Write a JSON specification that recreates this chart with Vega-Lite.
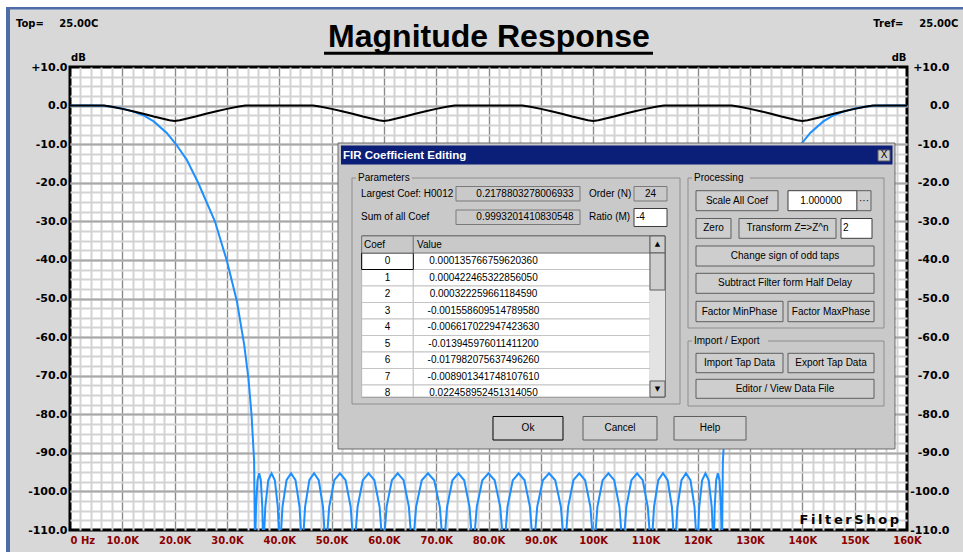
{
"$schema": "https://vega.github.io/schema/vega-lite/v6.json",
"width": 837, "height": 463,
"autosize": {"type": "none"},
"padding": {"left": 70, "top": 67, "right": 56, "bottom": 22},
"background": "#d8d8d8",
"config": {"view": {"fill": "#ffffff", "stroke": "#000000", "strokeWidth": 3}},
"datasets": {
"blue": [
{"f":0,"db":0},{"f":4000,"db":0},{"f":6500,"db":-0.05},{"f":8000,"db":-0.3},{"f":10000,"db":-0.75},{"f":12000,"db":-1.5},{"f":14000,"db":-2.5},{"f":16000,"db":-4.1},{"f":18500,"db":-7.1},{"f":20300,"db":-10.1},{"f":22300,"db":-14},{"f":24500,"db":-20},{"f":27700,"db":-30},{"f":30000,"db":-40.3},{"f":31900,"db":-50.7},{"f":33300,"db":-62},{"f":34100,"db":-70.6},{"f":34700,"db":-80.1},{"f":35200,"db":-92.2},{"f":35370,"db":-116},
{"f":35560,"db":-104},{"f":35840,"db":-97.1},{"f":36160,"db":-95.3},{"f":36480,"db":-97.1},{"f":36760,"db":-104},{"f":36950,"db":-116},
{"f":37330,"db":-104},{"f":37900,"db":-97.1},{"f":38530,"db":-95.3},{"f":39160,"db":-97.1},{"f":39720,"db":-104},{"f":40100,"db":-116},
{"f":40620,"db":-104},{"f":41390,"db":-97.1},{"f":42250,"db":-95.3},{"f":43110,"db":-97.1},{"f":43880,"db":-104},{"f":44400,"db":-116},
{"f":44940,"db":-104},{"f":45750,"db":-97.1},{"f":46650,"db":-95.3},{"f":47550,"db":-97.1},{"f":48360,"db":-104},{"f":48900,"db":-116},
{"f":49550,"db":-104},{"f":50520,"db":-97.1},{"f":51600,"db":-95.3},{"f":52680,"db":-97.1},{"f":53650,"db":-104},{"f":54300,"db":-116},
{"f":54970,"db":-104},{"f":55970,"db":-97.1},{"f":57080,"db":-95.3},{"f":58190,"db":-97.1},{"f":59180,"db":-104},{"f":59850,"db":-116},
{"f":60520,"db":-104},{"f":61530,"db":-97.1},{"f":62650,"db":-95.3},{"f":63770,"db":-97.1},{"f":64780,"db":-104},{"f":65450,"db":-116},
{"f":66160,"db":-104},{"f":67240,"db":-97.1},{"f":68430,"db":-95.3},{"f":69620,"db":-97.1},{"f":70690,"db":-104},{"f":71400,"db":-116},
{"f":72080,"db":-104},{"f":73100,"db":-97.1},{"f":74230,"db":-95.3},{"f":75360,"db":-97.1},{"f":76370,"db":-104},{"f":77050,"db":-116},
{"f":77760,"db":-104},{"f":78820,"db":-97.1},{"f":80000,"db":-95.3},{"f":81180,"db":-97.1},{"f":82240,"db":-104},{"f":82950,"db":-116},
{"f":83630,"db":-104},{"f":84640,"db":-97.1},{"f":85770,"db":-95.3},{"f":86900,"db":-97.1},{"f":87920,"db":-104},{"f":88600,"db":-116},
{"f":89310,"db":-104},{"f":90380,"db":-97.1},{"f":91570,"db":-95.3},{"f":92760,"db":-97.1},{"f":93840,"db":-104},{"f":94550,"db":-116},
{"f":95220,"db":-104},{"f":96230,"db":-97.1},{"f":97350,"db":-95.3},{"f":98470,"db":-97.1},{"f":99480,"db":-104},{"f":100150,"db":-116},
{"f":100820,"db":-104},{"f":101810,"db":-97.1},{"f":102920,"db":-95.3},{"f":104030,"db":-97.1},{"f":105030,"db":-104},{"f":105700,"db":-116},
{"f":106350,"db":-104},{"f":107320,"db":-97.1},{"f":108400,"db":-95.3},{"f":109480,"db":-97.1},{"f":110450,"db":-104},{"f":111100,"db":-116},
{"f":111640,"db":-104},{"f":112450,"db":-97.1},{"f":113350,"db":-95.3},{"f":114250,"db":-97.1},{"f":115060,"db":-104},{"f":115600,"db":-116},
{"f":116120,"db":-104},{"f":116890,"db":-97.1},{"f":117750,"db":-95.3},{"f":118610,"db":-97.1},{"f":119380,"db":-104},{"f":119900,"db":-116},
{"f":120280,"db":-104},{"f":120840,"db":-97.1},{"f":121470,"db":-95.3},{"f":122100,"db":-97.1},{"f":122670,"db":-104},{"f":123050,"db":-116},
{"f":123240,"db":-104},{"f":123520,"db":-97.1},{"f":123840,"db":-95.3},{"f":124160,"db":-97.1},{"f":124440,"db":-104},{"f":124630,"db":-116},
{"f":124800,"db":-92.2},{"f":125300,"db":-80.1},{"f":125900,"db":-70.6},{"f":126700,"db":-62},{"f":128100,"db":-50.7},{"f":130000,"db":-40.3},{"f":132300,"db":-30},{"f":135500,"db":-20},{"f":137700,"db":-14},{"f":139700,"db":-10.1},{"f":141500,"db":-7.1},{"f":144000,"db":-4.1},{"f":146000,"db":-2.5},{"f":148000,"db":-1.5},{"f":150000,"db":-0.75},{"f":152000,"db":-0.3},{"f":153500,"db":-0.05},{"f":156000,"db":0},{"f":160000,"db":0}
],
"black": [
{"f":0,"db":0},{"f":6500,"db":0},{"f":8000,"db":-0.3},{"f":10000,"db":-0.85},{"f":12000,"db":-1.45},{"f":14000,"db":-2.1},{"f":16000,"db":-2.85},{"f":18000,"db":-3.5},{"f":19000,"db":-3.8},{"f":20000,"db":-4.0},{"f":21000,"db":-3.8},{"f":22000,"db":-3.5},{"f":24000,"db":-2.85},{"f":26000,"db":-2.1},{"f":28000,"db":-1.45},{"f":30000,"db":-0.85},{"f":32000,"db":-0.3},{"f":33500,"db":0},
{"f":46500,"db":0},{"f":48000,"db":-0.3},{"f":50000,"db":-0.85},{"f":52000,"db":-1.45},{"f":54000,"db":-2.1},{"f":56000,"db":-2.85},{"f":58000,"db":-3.5},{"f":59000,"db":-3.8},{"f":60000,"db":-4.0},{"f":61000,"db":-3.8},{"f":62000,"db":-3.5},{"f":64000,"db":-2.85},{"f":66000,"db":-2.1},{"f":68000,"db":-1.45},{"f":70000,"db":-0.85},{"f":72000,"db":-0.3},{"f":73500,"db":0},
{"f":86500,"db":0},{"f":88000,"db":-0.3},{"f":90000,"db":-0.85},{"f":92000,"db":-1.45},{"f":94000,"db":-2.1},{"f":96000,"db":-2.85},{"f":98000,"db":-3.5},{"f":99000,"db":-3.8},{"f":100000,"db":-4.0},{"f":101000,"db":-3.8},{"f":102000,"db":-3.5},{"f":104000,"db":-2.85},{"f":106000,"db":-2.1},{"f":108000,"db":-1.45},{"f":110000,"db":-0.85},{"f":112000,"db":-0.3},{"f":113500,"db":0},
{"f":126500,"db":0},{"f":128000,"db":-0.3},{"f":130000,"db":-0.85},{"f":132000,"db":-1.45},{"f":134000,"db":-2.1},{"f":136000,"db":-2.85},{"f":138000,"db":-3.5},{"f":139000,"db":-3.8},{"f":140000,"db":-4.0},{"f":141000,"db":-3.8},{"f":142000,"db":-3.5},{"f":144000,"db":-2.85},{"f":146000,"db":-2.1},{"f":148000,"db":-1.45},{"f":150000,"db":-0.85},{"f":152000,"db":-0.3},{"f":153500,"db":0},{"f":160000,"db":0}
],
"ann": [
{"t":"Top=","x":-10323,"y":21.145},{"t":"25.00C","x":-2045,"y":21.145},{"t":"Tref=","x":153558,"y":21.145},{"t":"25.00C","x":162351,"y":21.145},{"t":"dB","x":191,"y":12.255},{"t":"dB","x":157075,"y":12.255}
],
"ttl": [{"t":"Magnitude Response","x":80096,"y":15.184}],
"logo": [{"t":"F\u2009i\u2009l\u2009t\u2009e\u2009r\u2009S\u2009h\u2009o\u2009p","x":158471,"y":-107.3}],
"rects": [
{"k":"white","x1":-13381,"x2":-12234,"y1":-115.7,"y2":27.37},
{"k":"white","x1":-13381,"x2":170705,"y1":25.55,"y2":27.37},
{"k":"winblue","x1":-12234,"x2":-11470,"y1":-115.7,"y2":25.55},
{"k":"winblue","x1":-12234,"x2":170705,"y1":24.9,"y2":25.55},
{"k":"ink","x1":48554,"x2":111446,"y1":13.16,"y2":13.94},
{"k":"dlg","x1":51231,"x2":157706,"y1":-89.006,"y2":-9.698},
{"k":"title","x1":51804,"x2":157228,"y1":-15.27,"y2":-10.346},
{"k":"btn","x1":154456,"x2":156750,"y1":-14.363,"y2":-11.512},
{"k":"group","x1":53907,"x2":116607,"y1":-77.343,"y2":-18.769},
{"k":"lblbg","x1":54671,"x2":65376,"y1":-20.324,"y2":-17.214},
{"k":"ro","x1":73787,"x2":97491,"y1":-24.73,"y2":-20.972},
{"k":"ro","x1":107814,"x2":114122,"y1":-24.73,"y2":-20.972},
{"k":"ro","x1":73787,"x2":97491,"y1":-30.821,"y2":-27.063},
{"k":"field","x1":107814,"x2":114122,"y1":-31.339,"y2":-26.674},
{"k":"tablebox","x1":55761,"x2":113740,"y1":-75.529,"y2":-33.801},
{"k":"cell","x1":65625,"x2":110872,"y1":-42.484,"y2":-38.207},
{"k":"cell","x1":55761,"x2":65625,"y1":-46.76,"y2":-42.484},
{"k":"cell","x1":65625,"x2":110872,"y1":-46.76,"y2":-42.484},
{"k":"cell","x1":55761,"x2":65625,"y1":-51.037,"y2":-46.76},
{"k":"cell","x1":65625,"x2":110872,"y1":-51.037,"y2":-46.76},
{"k":"cell","x1":55761,"x2":65625,"y1":-55.313,"y2":-51.037},
{"k":"cell","x1":65625,"x2":110872,"y1":-55.313,"y2":-51.037},
{"k":"cell","x1":55761,"x2":65625,"y1":-59.59,"y2":-55.313},
{"k":"cell","x1":65625,"x2":110872,"y1":-59.59,"y2":-55.313},
{"k":"cell","x1":55761,"x2":65625,"y1":-63.866,"y2":-59.59},
{"k":"cell","x1":65625,"x2":110872,"y1":-63.866,"y2":-59.59},
{"k":"cell","x1":55761,"x2":65625,"y1":-68.143,"y2":-63.866},
{"k":"cell","x1":65625,"x2":110872,"y1":-68.143,"y2":-63.866},
{"k":"cell","x1":55761,"x2":65625,"y1":-72.419,"y2":-68.143},
{"k":"cell","x1":65625,"x2":110872,"y1":-72.419,"y2":-68.143},
{"k":"cell","x1":55761,"x2":65625,"y1":-75.529,"y2":-72.419},
{"k":"cell","x1":65625,"x2":110872,"y1":-75.529,"y2":-72.419},
{"k":"focus","x1":55761,"x2":65625,"y1":-42.484,"y2":-38.207},
{"k":"hdr","x1":55761,"x2":65625,"y1":-38.207,"y2":-33.801},
{"k":"hdr","x1":65625,"x2":110872,"y1":-38.207,"y2":-33.801},
{"k":"track","x1":110872,"x2":113740,"y1":-71.382,"y2":-38.207},
{"k":"btn","x1":110872,"x2":113740,"y1":-38.207,"y2":-33.801},
{"k":"btn","x1":110872,"x2":113740,"y1":-47.797,"y2":-38.207},
{"k":"btn","x1":110872,"x2":113740,"y1":-75.529,"y2":-71.382},
{"k":"group","x1":118136,"x2":155603,"y1":-57.646,"y2":-18.769},
{"k":"lblbg","x1":118901,"x2":129988,"y1":-20.324,"y2":-17.214},
{"k":"btn","x1":119666,"x2":135341,"y1":-27.244,"y2":-22.06},
{"k":"field","x1":137252,"x2":150442,"y1":-27.244,"y2":-22.06},
{"k":"btn","x1":150442,"x2":153118,"y1":-27.244,"y2":-22.06},
{"k":"btn","x1":119666,"x2":126356,"y1":-34.397,"y2":-29.266},
{"k":"btn","x1":127885,"x2":146428,"y1":-34.397,"y2":-29.266},
{"k":"field","x1":147384,"x2":153310,"y1":-34.397,"y2":-29.266},
{"k":"btn","x1":119666,"x2":153692,"y1":-41.577,"y2":-36.393},
{"k":"btn","x1":119666,"x2":153692,"y1":-48.652,"y2":-43.469},
{"k":"btn","x1":119666,"x2":136296,"y1":-56.013,"y2":-50.726},
{"k":"btn","x1":137252,"x2":153692,"y1":-56.013,"y2":-50.726},
{"k":"group","x1":118136,"x2":155603,"y1":-77.862,"y2":-61.015},
{"k":"lblbg","x1":118901,"x2":133429,"y1":-62.57,"y2":-59.46},
{"k":"btn","x1":119666,"x2":136296,"y1":-69.231,"y2":-64.203},
{"k":"btn","x1":137252,"x2":153692,"y1":-69.231,"y2":-64.203},
{"k":"btn","x1":119666,"x2":153692,"y1":-75.866,"y2":-70.942},
{"k":"btnfocus","x1":80860,"x2":94241,"y1":-86.674,"y2":-80.583},
{"k":"btn","x1":98065,"x2":112210,"y1":-86.674,"y2":-80.583},
{"k":"btn","x1":115460,"x2":129224,"y1":-86.674,"y2":-80.583}
],
"tl": [
{"t":"Parameters","x":55054,"y":-18.769},
{"t":"Largest Coef: H0012","x":55627,"y":-22.838},
{"t":"Order (N)","x":99212,"y":-22.838},
{"t":"Sum of all Coef","x":55627,"y":-28.954},
{"t":"Ratio (M)","x":99212,"y":-28.954},
{"t":"-4","x":108196,"y":-28.954},
{"t":"Coef","x":56201,"y":-36.134},
{"t":"Value","x":66332,"y":-36.134},
{"t":"Processing","x":119283,"y":-18.769},
{"t":"Import / Export","x":119283,"y":-61.015},
{"t":"2","x":147766,"y":-31.832}
],
"tc": [
{"t":"0.2178803278006933","x":86977,"y":-22.838},
{"t":"24","x":110968,"y":-22.838},
{"t":"0.9993201410830548","x":86977,"y":-28.954},
{"t":"0","x":60693,"y":-40.346},{"t":"1","x":60693,"y":-44.622},{"t":"2","x":60693,"y":-48.899},{"t":"3","x":60693,"y":-53.175},{"t":"4","x":60693,"y":-57.452},{"t":"5","x":60693,"y":-61.728},{"t":"6","x":60693,"y":-66.005},{"t":"7","x":60693,"y":-70.281},{"t":"8","x":60693,"y":-74.557},
{"t":"0.000135766759620360","x":79044,"y":-40.346},
{"t":"0.000422465322856050","x":79044,"y":-44.622},
{"t":"0.000322259661184590","x":79044,"y":-48.899},
{"t":"-0.001558609514789580","x":79044,"y":-53.175},
{"t":"-0.006617022947423630","x":79044,"y":-57.452},
{"t":"-0.013945976011411200","x":79044,"y":-61.728},
{"t":"-0.017982075637496260","x":79044,"y":-66.005},
{"t":"-0.008901341748107610","x":79044,"y":-70.281},
{"t":"0.022458952451314050","x":79044,"y":-74.557},
{"t":"Scale All Coef","x":127503,"y":-24.652},
{"t":"1.000000","x":143560,"y":-24.652},
{"t":"···","x":151780,"y":-24.652},
{"t":"Zero","x":123011,"y":-31.832},
{"t":"Transform Z=>Z^n","x":137157,"y":-31.832},
{"t":"Change sign of odd taps","x":136679,"y":-38.985},
{"t":"Subtract Filter form Half Delay","x":136679,"y":-46.061},
{"t":"Factor MinPhase","x":127981,"y":-53.37},
{"t":"Factor MaxPhase","x":145472,"y":-53.37},
{"t":"Import Tap Data","x":127981,"y":-66.717},
{"t":"Export Tap Data","x":145472,"y":-66.717},
{"t":"Editor / View Data File","x":136679,"y":-73.405},
{"t":"Ok","x":87551,"y":-83.616},
{"t":"Cancel","x":105137,"y":-83.616},
{"t":"Help","x":122342,"y":-83.616},
{"t":"X","x":155603,"y":-12.808}
],
"tt": [{"t":"FIR Coefficient Editing","x":52186,"y":-13.067}],
"tar": [{"t":"▲","x":112306,"y":-36.0},{"t":"▼","x":112306,"y":-73.456}]
},
"layer": [
{
"data": {"name": "blue"},
"mark": {"type": "line", "color": "#1e8fff", "strokeWidth": 2, "clip": true},
"encoding": {
"x": {"field": "f", "type": "quantitative", "scale": {"domain": [0, 160000], "nice": false, "zero": false},
 "axis": {"orient": "bottom", "values": [2000,4000,6000,8000,10000,12000,14000,16000,18000,20000,22000,24000,26000,28000,30000,32000,34000,36000,38000,40000,42000,44000,46000,48000,50000,52000,54000,56000,58000,60000,62000,64000,66000,68000,70000,72000,74000,76000,78000,80000,82000,84000,86000,88000,90000,92000,94000,96000,98000,100000,102000,104000,106000,108000,110000,112000,114000,116000,118000,120000,122000,124000,126000,128000,130000,132000,134000,136000,138000,140000,142000,144000,146000,148000,150000,152000,154000,156000,158000], "grid": true, "gridColor": "#d3d3d3", "gridWidth": 2, "labels": false, "ticks": false, "domain": false, "title": null}},
"y": {"field": "db", "type": "quantitative", "scale": {"domain": [-110, 10], "nice": false, "zero": false},
 "axis": {"orient": "left", "values": [-107.5,-105,-102.5,-100,-97.5,-95,-92.5,-90,-87.5,-85,-82.5,-80,-77.5,-75,-72.5,-70,-67.5,-65,-62.5,-60,-57.5,-55,-52.5,-50,-47.5,-45,-42.5,-40,-37.5,-35,-32.5,-30,-27.5,-25,-22.5,-20,-17.5,-15,-12.5,-10,-7.5,-5,-2.5,0,2.5,5,7.5], "grid": true, "gridColor": "#d3d3d3", "gridWidth": 2, "labels": false, "ticks": false, "domain": false, "title": null}}
}
},
{
"data": {"name": "black"},
"mark": {"type": "line", "color": "#000000", "strokeWidth": 2, "clip": true},
"encoding": {
"x": {"field": "f", "type": "quantitative", "scale": {"domain": [0, 160000], "nice": false, "zero": false},
 "axis": {"orient": "bottom", "values": [10000,20000,30000,40000,50000,60000,70000,80000,90000,100000,110000,120000,130000,140000,150000], "grid": true, "gridColor": "#8a8a8a", "gridWidth": 1, "labels": false, "ticks": false, "domain": false, "title": null}},
"y": {"field": "db", "type": "quantitative", "scale": {"domain": [-110, 10], "nice": false, "zero": false},
 "axis": {"orient": "left", "values": [-100,-90,-80,-70,-60,-50,-40,-30,-20,-10,0], "grid": true, "gridColor": "#a8a8a8", "gridWidth": 2, "labels": false, "ticks": false, "domain": false, "title": null}}
}
},
{
"data": {"name": "ann"},
"mark": {"type": "text", "align": "left", "baseline": "middle", "font": "DejaVu Sans", "fontSize": 10, "fontWeight": "bold", "color": "#000000"},
"encoding": {
"text": {"field": "t", "type": "nominal"},
"x": {"field": "x", "type": "quantitative", "scale": {"domain": [0, 160000], "nice": false, "zero": false},
 "axis": {"orient": "bottom", "values": [0,10000,20000,30000,40000,50000,60000,70000,80000,90000,100000,110000,120000,130000,140000,150000,160000], "grid": false, "ticks": false, "tickSize": 0, "domain": false, "title": null,
  "labelExpr": "datum.value === 0 ? '0 Hz' : (datum.value < 100000 ? format(datum.value / 1000, '.1f') + 'K' : format(datum.value / 1000, '.0f') + 'K')",
  "labelColor": "#8b0000", "labelFont": "DejaVu Sans", "labelFontSize": 10, "labelFontWeight": "bold", "labelPadding": 5, "labelFlush": false, "labelOverlap": false, "labelBound": false,
  "labelAlign": {"condition": {"test": "datum.value === 0", "value": "left"}, "value": "center"}}},
"y": {"field": "y", "type": "quantitative", "scale": {"domain": [-110, 10], "nice": false, "zero": false},
 "axis": {"orient": "left", "values": [-110,-100,-90,-80,-70,-60,-50,-40,-30,-20,-10,0,10], "grid": false, "ticks": false, "tickSize": 0, "domain": false, "title": null,
  "labelExpr": "datum.value > 0 ? '+' + format(datum.value, '.1f') : (datum.value < 0 ? '-' + format(-datum.value, '.1f') : '0.0')",
  "labelColor": "#000000", "labelFont": "DejaVu Sans", "labelFontSize": 11, "labelFontWeight": "bold", "labelPadding": 3, "labelOverlap": false, "labelBound": false, "labelFlush": false}}
}
},
{
"data": {"name": "ttl"},
"mark": {"type": "text", "align": "center", "baseline": "alphabetic", "font": "Liberation Sans", "fontSize": 32, "fontWeight": "bold", "color": "#000000"},
"encoding": {
"text": {"field": "t", "type": "nominal"},
"x": {"field": "x", "type": "quantitative", "scale": {"domain": [0, 160000], "nice": false, "zero": false}, "axis": null},
"y": {"field": "y", "type": "quantitative", "scale": {"domain": [-110, 10], "nice": false, "zero": false},
 "axis": {"orient": "right", "values": [-110,-100,-90,-80,-70,-60,-50,-40,-30,-20,-10,0,10], "grid": false, "ticks": false, "tickSize": 0, "domain": false, "title": null,
  "labelExpr": "datum.value > 0 ? '+' + format(datum.value, '.1f') : (datum.value < 0 ? '-' + format(-datum.value, '.1f') : '0.0')",
  "labelColor": "#000000", "labelFont": "DejaVu Sans", "labelFontSize": 11, "labelFontWeight": "bold", "labelPadding": 42, "labelAlign": "right", "labelOverlap": false, "labelBound": false, "labelFlush": false}}
}
},
{
"data": {"name": "logo"},
"mark": {"type": "text", "align": "right", "baseline": "middle", "font": "DejaVu Sans", "fontSize": 13, "fontWeight": "bold", "color": "#000000"},
"encoding": {
"text": {"field": "t", "type": "nominal"},
"x": {"field": "x", "type": "quantitative", "scale": {"domain": [0, 160000], "nice": false, "zero": false}, "axis": null},
"y": {"field": "y", "type": "quantitative", "scale": {"domain": [-110, 10], "nice": false, "zero": false}, "axis": null}
}
},
{
"data": {"name": "rects"},
"mark": {"type": "rect", "strokeWidth": 1},
"encoding": {
"x": {"field": "x1", "type": "quantitative", "scale": {"domain": [0, 160000], "nice": false, "zero": false}, "axis": null},
"x2": {"field": "x2"},
"y": {"field": "y1", "type": "quantitative", "scale": {"domain": [-110, 10], "nice": false, "zero": false}, "axis": null},
"y2": {"field": "y2"},
"color": {"field": "k", "type": "nominal", "legend": null, "scale": {
 "domain": ["white","winblue","ink","dlg","title","btn","btnfocus","group","lblbg","ro","field","tablebox","hdr","cell","focus","track"],
 "range": ["#ffffff","#4d6ca8","#000000","#c9c9c9","#0c1f78","#cecece","#cecece","transparent","#c9c9c9","#c9c9c9","#ffffff","#ffffff","#c9c9c9","#ffffff","#ffffff","#e3e3e3"]}},
"stroke": {"field": "k", "type": "nominal", "legend": null, "scale": {
 "domain": ["white","winblue","ink","dlg","title","btn","btnfocus","group","lblbg","ro","field","tablebox","hdr","cell","focus","track"],
 "range": ["transparent","transparent","transparent","#6a6a6a","transparent","#5e5e5e","#000000","#8e8e8e","transparent","#7a7a7a","#3c3c3c","#3c3c3c","#7a7a7a","#c4c4c4","#000000","transparent"]}}
}
},
{
"data": {"name": "tl"},
"mark": {"type": "text", "align": "left", "baseline": "middle", "font": "Liberation Sans", "fontSize": 10, "color": "#000000"},
"encoding": {
"text": {"field": "t", "type": "nominal"},
"x": {"field": "x", "type": "quantitative", "scale": {"domain": [0, 160000], "nice": false, "zero": false}, "axis": null},
"y": {"field": "y", "type": "quantitative", "scale": {"domain": [-110, 10], "nice": false, "zero": false}, "axis": null}
}
},
{
"data": {"name": "tc"},
"mark": {"type": "text", "align": "center", "baseline": "middle", "font": "Liberation Sans", "fontSize": 10, "color": "#000000"},
"encoding": {
"text": {"field": "t", "type": "nominal"},
"x": {"field": "x", "type": "quantitative", "scale": {"domain": [0, 160000], "nice": false, "zero": false}, "axis": null},
"y": {"field": "y", "type": "quantitative", "scale": {"domain": [-110, 10], "nice": false, "zero": false}, "axis": null}
}
},
{
"data": {"name": "tt"},
"mark": {"type": "text", "align": "left", "baseline": "middle", "font": "Liberation Sans", "fontSize": 11.5, "fontWeight": "bold", "color": "#ffffff"},
"encoding": {
"text": {"field": "t", "type": "nominal"},
"x": {"field": "x", "type": "quantitative", "scale": {"domain": [0, 160000], "nice": false, "zero": false}, "axis": null},
"y": {"field": "y", "type": "quantitative", "scale": {"domain": [-110, 10], "nice": false, "zero": false}, "axis": null}
}
},
{
"data": {"name": "tar"},
"mark": {"type": "text", "align": "center", "baseline": "middle", "font": "DejaVu Sans", "fontSize": 7, "color": "#000000"},
"encoding": {
"text": {"field": "t", "type": "nominal"},
"x": {"field": "x", "type": "quantitative", "scale": {"domain": [0, 160000], "nice": false, "zero": false}, "axis": null},
"y": {"field": "y", "type": "quantitative", "scale": {"domain": [-110, 10], "nice": false, "zero": false}, "axis": null}
}
}
],
"resolve": {"axis": {"x": "independent", "y": "independent"}}
}
